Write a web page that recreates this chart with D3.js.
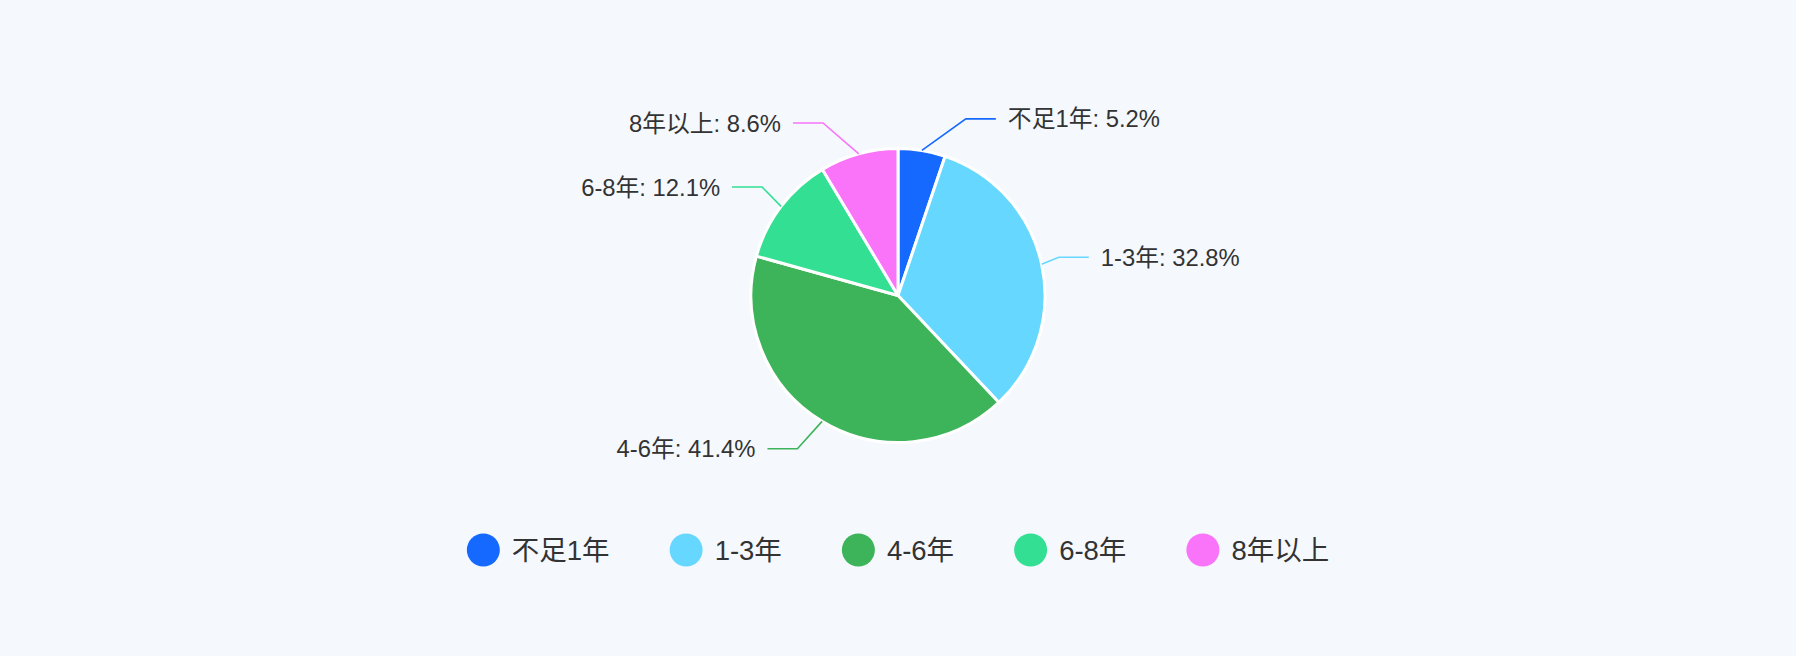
<!DOCTYPE html>
<html lang="zh">
<head>
  <meta charset="utf-8">
  <title>工作年限分布</title>
  <script type="text/javascript" src="https://d3js.org/d3.v7.min.js"></script>
</head>
<style>

html, body {
  margin: 0;
  padding: 0;
  background: #f5f9fe;
}

body {
  font-family: "Liberation Sans", Arial, "Noto Sans CJK SC", sans-serif;
}

</style>
<body>
  <script type="text/javascript">
  // data
  var categories = ["不足1年", "1-3年", "4-6年", "6-8年", "8年以上"];
  var percents = [5.2, 32.8, 41.4, 12.1, 8.6];
  var colors = ["#1569ff", "#66d8ff", "#3db35a", "#33df92", "#f974f9"];

  var w = 1796;
  var h = 656;
  var cx = 898, cy = 295.5, r = 147;

  var svg = d3.select("body")
      .append("svg")
      .attr("width", w)
      .attr("height", h)
      .style("display", "block");

  svg.append("rect")
     .attr("width", w)
     .attr("height", h)
     .attr("fill", "#f5f9fe");

  var data = categories.map(function(c, i) {
    return { name: c, value: percents[i], color: colors[i] };
  });

  var pie = d3.pie()
      .sort(null)
      .value(function(d) { return d.value; });

  var arc = d3.arc()
      .innerRadius(0)
      .outerRadius(r);

  var arcs = pie(data);

  var g = svg.append("g")
      .attr("transform", "translate(" + cx + "," + cy + ")");

  g.selectAll("path")
   .data(arcs)
   .enter()
   .append("path")
   .attr("d", arc)
   .attr("fill", function(d) { return d.data.color; })
   .attr("stroke", "#ffffff")
   .attr("stroke-width", 3)
   .attr("stroke-linejoin", "round");

  // label lines: y from radial point, x pulled onto an ellipse (like echarts does)
  var labelR = r + 32, semiA = r + 17, semiB = r + 47, len2 = 30, gap = 12;

  var labels = arcs.map(function(d) {
    var mid = (d.startAngle + d.endAngle) / 2;
    var dir = Math.sin(mid) >= 0 ? 1 : -1;
    var p0 = [r * Math.sin(mid), -r * Math.cos(mid)];
    var y = -labelR * Math.cos(mid);
    var x = dir * semiA * Math.sqrt(Math.max(0, 1 - (y * y) / (semiB * semiB)));
    return {
      d: d, dir: dir,
      pts: [p0, [x, y], [x + dir * len2, y]],
      tx: x + dir * (len2 + gap), ty: y
    };
  });

  var line = d3.line();

  g.selectAll(".lbl-line")
   .data(labels)
   .enter()
   .append("path")
   .attr("class", "lbl-line")
   .attr("d", function(l) { return line(l.pts); })
   .attr("fill", "none")
   .attr("stroke", function(l) { return l.d.data.color; })
   .attr("stroke-width", 1.6);

  g.selectAll(".lbl")
   .data(labels)
   .enter()
   .append("text")
   .attr("class", "lbl")
   .attr("x", function(l) { return l.tx; })
   .attr("y", function(l) { return l.ty; })
   .attr("dy", "0.36em")
   .attr("text-anchor", function(l) { return l.dir > 0 ? "start" : "end"; })
   .style("font-size", "23.8px")
   .style("fill", "#333333")
   .text(function(l) { return l.d.data.name + ": " + l.d.data.value.toFixed(1) + "%"; });

  // legend, centered under the pie
  var legend = svg.append("g");
  var dotR = 16.5, textGap = 12, itemGap = 60, ly = 550;

  var items = legend.selectAll("g")
      .data(data)
      .enter()
      .append("g");

  items.append("circle")
       .attr("r", dotR)
       .attr("cx", dotR)
       .attr("cy", 0)
       .attr("fill", function(d) { return d.color; });

  items.append("text")
       .attr("x", dotR * 2 + textGap)
       .attr("y", 0)
       .attr("dy", "0.36em")
       .style("font-size", "27.5px")
       .style("fill", "#333333")
       .text(function(d) { return d.name; });

  var offs = 0;
  items.each(function() {
    var t = d3.select(this).select("text").node().getComputedTextLength();
    d3.select(this).attr("transform", "translate(" + offs + ",0)");
    offs += dotR * 2 + textGap + t + itemGap;
  });
  var total = offs - itemGap;
  legend.attr("transform", "translate(" + (cx - total / 2) + "," + ly + ")");

</script>
</body>
</html>
